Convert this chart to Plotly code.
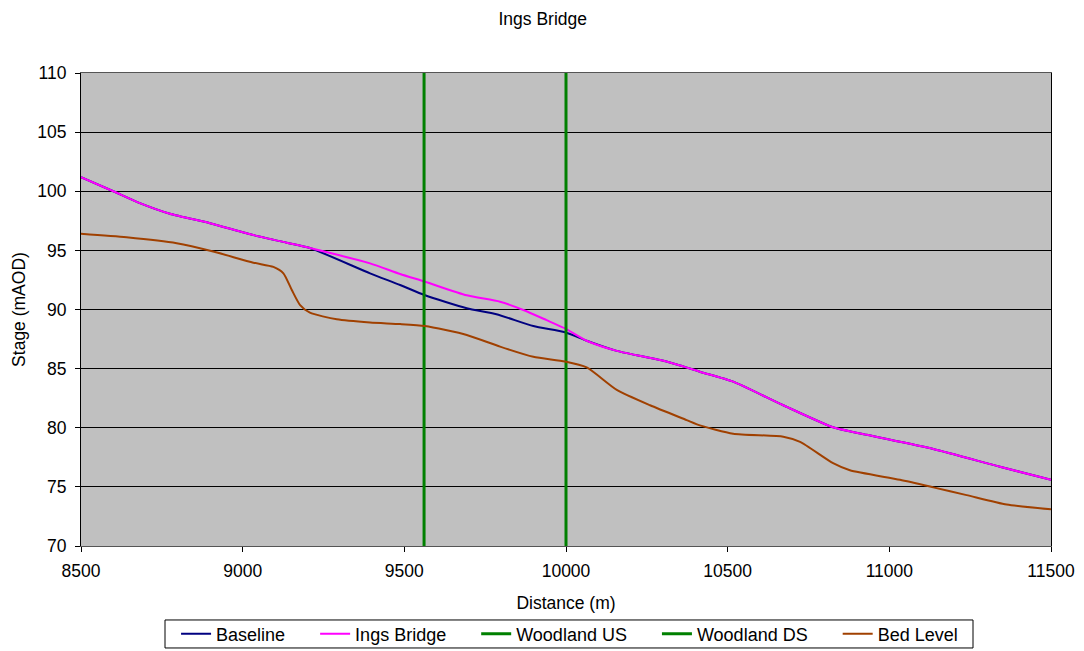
import plotly.graph_objects as go

# Data
ings_x = [8500, 8600, 8682, 8775, 8899, 9033, 9136, 9208, 9394, 9487, 9564, 9693, 9796, 9868, 9940, 9997, 10064,
          10157, 10311, 10414, 10517, 10672, 10826, 10930, 11136, 11342, 11500]
ings_y = [101.2, 100.0, 99.0, 98.1, 97.3, 96.3, 95.65, 95.2, 93.9, 93.0, 92.35, 91.2, 90.66, 89.96, 89.1, 88.4, 87.36,
          86.5, 85.6, 84.74, 83.9, 81.9, 80.04, 79.4, 78.2, 76.7, 75.6]

base_x = [8500, 8600, 8682, 8775, 8899, 9033, 9136, 9208, 9394, 9487, 9564, 9693, 9785, 9899, 9997, 10064,
          10157, 10311, 10414, 10517, 10672, 10826, 10930, 11136, 11342, 11500]
base_y = [101.2, 100.0, 99.0, 98.1, 97.3, 96.3, 95.65, 95.2, 93.06, 92.07, 91.2, 90.1, 89.6, 88.6, 88.07, 87.36,
          86.5, 85.6, 84.74, 83.9, 81.9, 80.04, 79.4, 78.2, 76.7, 75.6]

bed_x = [8500, 8641, 8796, 8909, 9033, 9095, 9126, 9152, 9177, 9208, 9291, 9394, 9487, 9564, 9693, 9796, 9899,
         9997, 10064, 10157, 10260, 10373, 10414, 10517, 10672, 10724, 10826, 10878, 11033, 11136, 11239, 11363, 11500]
bed_y = [96.4, 96.1, 95.6, 94.9, 93.96, 93.6, 93.06, 91.65, 90.4, 89.73, 89.17, 88.9, 88.77, 88.6, 87.85, 86.86, 86.0,
         85.6, 85.1, 83.2, 81.9, 80.65, 80.2, 79.5, 79.24, 78.8, 77.0, 76.4, 75.6, 74.96, 74.3, 73.5, 73.1]

woodland_us_x = [9561, 9561]
woodland_ds_x = [10000, 10000]
woodland_y = [70, 110]

x_ticks = [8500, 9000, 9500, 10000, 10500, 11000, 11500]
y_ticks = [70, 75, 80, 85, 90, 95, 100, 105, 110]

series_names = ["Baseline", "Ings Bridge", "Woodland US", "Woodland DS", "Bed Level"]

FONT = "Liberation Sans, Arial, sans-serif"
FS = 17.5
PAD = "\u00a0" * 5  # extra spacing between legend entries

fig = go.Figure()
fig.add_trace(go.Scatter(x=base_x, y=base_y, mode="lines", name=series_names[0] + PAD,
                         line=dict(color="#000080", width=2, shape="spline", smoothing=0.6)))
fig.add_trace(go.Scatter(x=ings_x, y=ings_y, mode="lines", name=series_names[1] + PAD,
                         line=dict(color="#FF00FF", width=2, shape="spline", smoothing=0.6)))
fig.add_trace(go.Scatter(x=woodland_us_x, y=woodland_y, mode="lines", name=series_names[2] + PAD,
                         line=dict(color="#008000", width=3)))
fig.add_trace(go.Scatter(x=woodland_ds_x, y=woodland_y, mode="lines", name=series_names[3] + PAD,
                         line=dict(color="#008000", width=3)))
fig.add_trace(go.Scatter(x=bed_x, y=bed_y, mode="lines", name=series_names[4],
                         line=dict(color="#A04000", width=2, shape="spline", smoothing=0.6)))

fig.update_layout(
    width=1076, height=651,
    margin=dict(l=73, r=33, t=65, b=113, autoexpand=False),
    paper_bgcolor="white",
    plot_bgcolor="#C0C0C0",
    font=dict(family=FONT, size=FS, color="black"),
    title=dict(text="Ings Bridge", x=0.497, xanchor="center", y=1 - 11 / 651, yanchor="middle",
               font=dict(family=FONT, size=FS, color="black")),
    showlegend=True,
    legend=dict(orientation="h", x=0.098, xanchor="left", y=-0.186, yanchor="middle",
                borderwidth=0, bgcolor="rgba(0,0,0,0)",
                font=dict(family=FONT, size=18, color="black"),
                tracegroupgap=0, itemwidth=30),
    shapes=[dict(type="rect", xref="paper", yref="paper",
                 x0=0.0866, x1=0.9196, y0=-0.2156, y1=-0.1564,
                 line=dict(color="black", width=1), fillcolor="rgba(0,0,0,0)", layer="above")],
)
fig.update_xaxes(range=[8500, 11500], tickvals=x_ticks, tickformat="d", showgrid=False, zeroline=False,
                 showline=True, linecolor="#555555", linewidth=1, mirror=True, automargin=False,
                 ticks="outside", ticklen=5, tickcolor="black", ticklabelstandoff=4,
                 title=dict(text="Distance (m)", standoff=16, font=dict(family=FONT, size=FS)))
fig.update_yaxes(range=[70, 110], tickvals=y_ticks, showgrid=True, gridcolor="black", gridwidth=1,
                 zeroline=False, showline=True, linecolor="black", linewidth=1, mirror=True, automargin=False,
                 ticks="outside", ticklen=5, tickcolor="black", ticklabelstandoff=5,
                 title=dict(text="Stage (mAOD)", standoff=7, font=dict(family=FONT, size=FS)))

fig.write_html("out.html")
